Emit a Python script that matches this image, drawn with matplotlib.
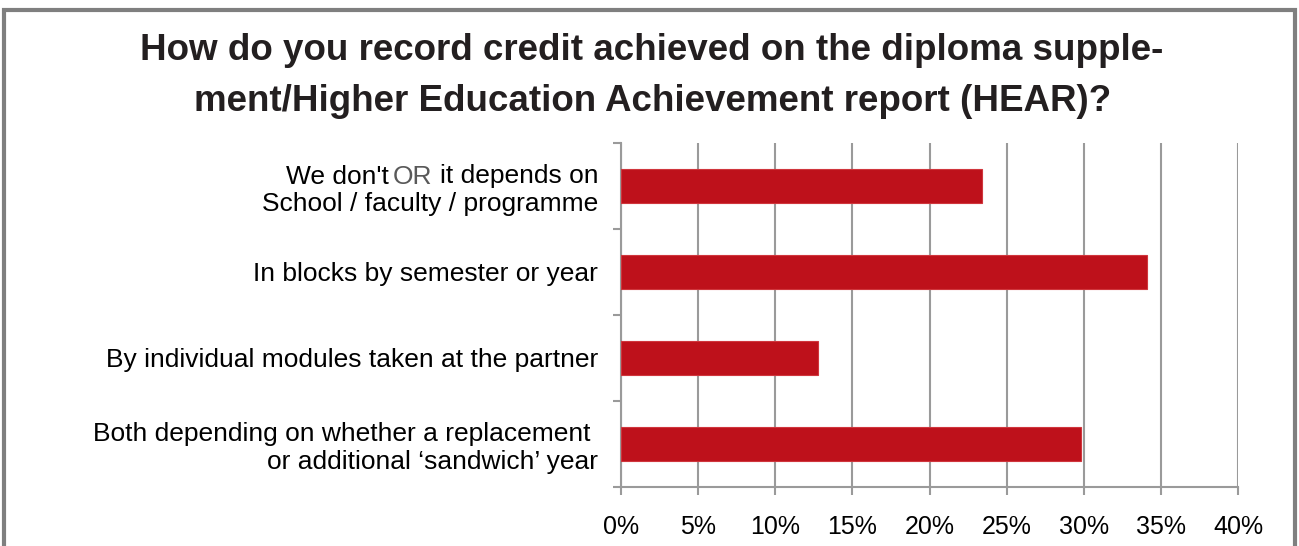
import matplotlib
matplotlib.use("Agg")
import matplotlib.pyplot as plt
from matplotlib.patches import Rectangle
from matplotlib.ticker import FixedLocator, FuncFormatter
from matplotlib.transforms import IdentityTransform

categories = [
    "We don't OR  it depends on\nSchool / faculty / programme",
    "In blocks by semester or year",
    "By individual modules taken at the partner",
    "Both depending on whether a replacement \nor additional \u2018sandwich\u2019 year",
]
values = [23.4, 34.1, 12.8, 29.8]
xticks = [0, 5, 10, 15, 20, 25, 30, 35, 40]
title_lines = ["How do you record credit achieved on the diploma supple-",
               "ment/Higher Education Achievement report (HEAR)?"]

plt.rcParams['font.family'] = ['Liberation Sans', 'DejaVu Sans']

W, H = 1299, 546
fig = plt.figure(figsize=(W / 100, H / 100), dpi=100)
fig.patch.set_facecolor('white')

# outer frame
fig.add_artist(Rectangle((4 / W, -0.05), (1295 - 4) / W, (H - 10) / H + 0.05,
                         transform=fig.transFigure, fill=False,
                         edgecolor='#7f7f7f', linewidth=3))

ax = fig.add_axes([621 / W, 1 - 487 / H, (1238 - 621) / W, (487 - 143) / H])
n = len(categories)
ypos = list(range(n))
ax.barh(ypos, values, height=0.4, color='#BE111B', edgecolor='#D0363D', linewidth=0.8, zorder=3)
ax.set_ylim(n - 0.5, -0.5)
ax.set_xlim(0, 40)

ax.xaxis.set_major_locator(FixedLocator(xticks))
ax.xaxis.set_major_formatter(FuncFormatter(lambda v, p: f"{int(v)}%"))
ax.grid(axis='x', color='#9a9a9a', linewidth=1.5, zorder=0)
ax.tick_params(axis='x', direction='out', length=6, width=1.5, color='#9a9a9a',
               labelsize=18, pad=14, labelcolor='black')

ax.set_yticks(ypos)
ax.set_yticklabels(categories, fontsize=19, ha='right')
ax.yaxis.set_minor_locator(FixedLocator([i + 0.5 for i in range(-1, n)]))
ax.tick_params(axis='y', which='major', length=0, pad=16.5)
ax.tick_params(axis='y', which='minor', direction='out', length=6, width=1.5, color='#9a9a9a')

for s in ['top', 'right']:
    ax.spines[s].set_visible(False)
for s in ['left', 'bottom']:
    ax.spines[s].set_color('#9a9a9a')
    ax.spines[s].set_linewidth(1.5)

fig.text(652 / W, 1 - 59.5 / H, title_lines[0], ha='center', va='baseline', fontsize=26.5,
         fontweight='bold', color='#231f20')
fig.text(653 / W, 1 - 111 / H, title_lines[1], ha='center', va='baseline', fontsize=26.5,
         fontweight='bold', color='#231f20')

# first label: redraw it in pieces so that "OR" can be grey
fig.canvas.draw()
renderer = fig.canvas.get_renderer()
lab0 = ax.get_yticklabels()[0]
bb = lab0.get_window_extent(renderer)
lab0.set_visible(False)
first_l1, first_l2 = categories[0].split("\n")
pre, rest = first_l1.split("OR")
fig.text(bb.x1, bb.y0, first_l2, ha='right', va='bottom', fontsize=19,
         transform=IdentityTransform())
t3 = fig.text(bb.x1, bb.y1, rest.strip(), ha='right', va='top', fontsize=19,
              transform=IdentityTransform())
t2 = ax.annotate("OR", xy=(0, 1), xycoords=t3, xytext=(-5.5, 0), textcoords='offset points',
                 ha='right', va='top', fontsize=19, color='#595959')
t1 = ax.annotate(pre.strip(), xy=(0, 1), xycoords=t2, xytext=(-2.5, 0), textcoords='offset points',
                 ha='right', va='top', fontsize=19, color='black')

fig.savefig('out.png', dpi=100, facecolor='white')
